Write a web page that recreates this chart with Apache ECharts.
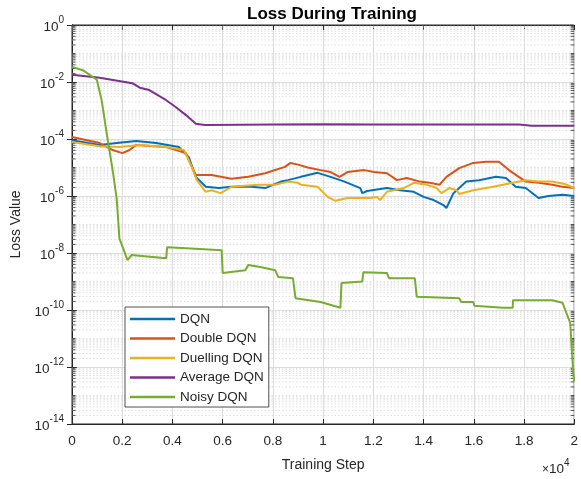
<!DOCTYPE html>
<html>
<head>
<meta charset="utf-8">
<script src="https://cdn.jsdelivr.net/npm/echarts@6/dist/echarts.min.js"></script>
<style>
html,body{margin:0;padding:0;background:#fff;}
#chart{width:581px;height:479px;}
</style>
</head>
<body>
<div id="chart"></div>
<script>
// ---- Data (training step, loss value) ----
var dqnSteps = [0,1100,1780,2560,3350,4260,4650,4930,5330,5840,6350,7140,7690,8320,8600,9110,9780,10300,10850,11480,11560,11750,12540,13060,13610,14000,14400,14790,14910,15190,15700,16210,16880,17280,17670,18070,18580,18970,19530,20000];
var dqnLoss  = [9.1e-5,6.2e-5,7.2e-5,8.5e-5,7.2e-5,5.2e-5,2.3e-5,4.7e-6,2.1e-6,1.9e-6,2.1e-6,2.1e-6,1.9e-6,3.2e-6,3.6e-6,4.7e-6,6.5e-6,4.7e-6,3.2e-6,1.9e-6,1.26e-6,1.5e-6,1.9e-6,1.6e-6,1.4e-6,9.3e-7,7.2e-7,4.8e-7,3.8e-7,1.26e-6,3.2e-6,3.6e-6,4.7e-6,4.3e-6,2.1e-6,1.9e-6,8.5e-7,1.0e-6,1.1e-6,1.0e-6];

var doubleSteps = [0,1100,1620,2010,2290,2560,3750,4540,4770,4930,5560,6350,7020,7690,8480,8700,9000,9390,9900,10300,10650,10970,11640,12030,12540,12940,13330,13850,14240,14640,14910,15420,15980,16490,17000,17400,17790,18070,18580,19130,19530,20000];
var doubleLoss  = [1.17e-4,7.2e-5,4.1e-5,3.2e-5,4.1e-5,6.2e-5,5.2e-5,3.2e-5,1.05e-5,5.5e-6,5.5e-6,4.0e-6,4.7e-6,6.3e-6,1.05e-5,1.45e-5,1.26e-5,1.0e-5,8.1e-6,6.9e-6,4.7e-6,6.9e-6,8.1e-6,6.9e-6,6.3e-6,3.6e-6,4.3e-6,3.2e-6,2.9e-6,2.5e-6,4.7e-6,9.5e-6,1.45e-5,1.6e-5,1.6e-5,8.1e-6,4.7e-6,3.2e-6,2.9e-6,2.5e-6,2.1e-6,1.9e-6];

var duelSteps = [0,1100,1890,2680,3750,4460,4770,4970,5330,5560,5920,6350,7420,8090,8600,8990,9110,9780,10180,10490,10970,11870,12150,12270,12540,13220,13610,14120,14520,14710,15030,15310,15420,15980,16770,17550,18070,18580,19130,19650,20000];
var duelLoss  = [7.9e-5,5.6e-5,5.2e-5,6.2e-5,5.2e-5,4.1e-5,1.05e-5,3.6e-6,1.4e-6,1.6e-6,1.26e-6,2.1e-6,2.5e-6,2.5e-6,3.2e-6,2.9e-6,2.5e-6,2.1e-6,9.3e-7,6.8e-7,8.5e-7,8.5e-7,9.3e-7,7.2e-7,1.4e-6,1.9e-6,2.9e-6,2.5e-6,1.9e-6,1.26e-6,1.9e-6,1.6e-6,1.17e-6,1.6e-6,2.1e-6,2.9e-6,3.6e-6,3.2e-6,3.2e-6,2.6e-6,1.9e-6];

var avgSteps = [0,1100,2400,2700,3080,3750,4140,4540,4930,5300,8000,10000,12000,14000,16000,17800,18300,20000];
var avgLoss  = [1.8e-2,1.4e-2,9.1e-3,6.3e-3,5.2e-3,2.3e-3,1.3e-3,6.9e-4,3.4e-4,3.1e-4,3.2e-4,3.3e-4,3.2e-4,3.2e-4,3.2e-4,3.2e-4,2.9e-4,2.9e-4];

var noisySteps = [0,430,990,1180,1380,1620,1780,1890,2090,2210,2370,3750,3790,4380,5960,6000,6900,7020,7500,8090,8210,8800,8900,9900,10690,10730,11560,11600,12540,12620,13650,13730,15420,15500,15980,16020,17160,17550,17560,19130,19530,19840,19960,20000];
var noisyLoss  = [3.4e-2,2.6e-2,1.2e-2,2.3e-3,1.6e-4,7.9e-6,7.9e-7,3.2e-8,1.1e-8,5.6e-9,8.5e-9,6.6e-9,1.6e-8,1.5e-8,1.26e-8,2.0e-9,2.5e-9,3.8e-9,3.2e-9,2.5e-9,1.45e-9,1.3e-9,2.6e-10,1.9e-10,1.2e-10,8.9e-10,1.0e-9,2.1e-9,2.0e-9,1.3e-9,1.3e-9,2.9e-10,2.6e-10,1.9e-10,1.9e-10,1.4e-10,1.2e-10,1.2e-10,2.2e-10,2.2e-10,1.8e-10,3.5e-11,6.3e-13,3.2e-13];

var seriesNames = ['DQN','Double DQN','Duelling DQN','Average DQN','Noisy DQN'];
var seriesColors = ['#0072BD','#D95319','#EDB120','#7E2F8E','#77AC30'];
var xTickLabels = ['0','0.2','0.4','0.6','0.8','1','1.2','1.4','1.6','1.8','2'];

function pairs(xs, ys){ return xs.map(function(x,i){ return [x, ys[i]]; }); }

// minor grid levels for the log axis: 2..9 x 10^k and odd decades
var minorLevels = [];
for (var k = -14; k < 0; k++) {
  if (Math.abs(k) % 2 === 1) minorLevels.push(Math.pow(10, k));
  for (var m = 2; m <= 9; m++) minorLevels.push(m * Math.pow(10, k));
}
var minorGridData = [], minorTickData = [];
minorLevels.forEach(function(v){
  minorGridData.push([0, v], [20000, v], [0, '-']);
  minorTickData.push([0, v], [140, v], [0, '-'], [19860, v], [20000, v], [0, '-']);
});

var FONT = 'Liberation Sans, Arial, Helvetica, sans-serif';
var TXT = '#262626';

var chart = echarts.init(document.getElementById('chart'), null, {renderer:'canvas'});

var dataSets = [[dqnSteps,dqnLoss],[doubleSteps,doubleLoss],[duelSteps,duelLoss],[avgSteps,avgLoss],[noisySteps,noisyLoss]];
var series = [{
  name: '_minorGrid', type: 'line', data: minorGridData, silent: true, z: 1,
  showSymbol: false, symbol: 'none', connectNulls: false,
  lineStyle: {color: '#dedede', type: [1.5,2], width: 1}, animation: false
}, {
  name: '_minorTick', type: 'line', data: minorTickData, silent: true, z: 2,
  showSymbol: false, symbol: 'none', connectNulls: false,
  lineStyle: {color: '#262626', width: 0.8}, animation: false
}];
dataSets.forEach(function(d, i){
  series.push({
    name: seriesNames[i], type: 'line', data: pairs(d[0], d[1]),
    showSymbol: false, symbol: 'none', z: 3 + i,
    lineStyle: {color: seriesColors[i], width: 2}, itemStyle: {color: seriesColors[i]},
    animation: false
  });
});

var tickStyle = {show: true, inside: true, length: 5, lineStyle: {color: '#262626'}};
var axisLineStyle = {show: true, lineStyle: {color: '#262626'}};

chart.setOption({
  backgroundColor: '#fff',
  animation: false,
  title: {
    text: 'Loss During Training', left: 327, top: 1, textAlign: 'center',
    textStyle: {fontFamily: FONT, fontSize: 17, fontWeight: 'bold', color: '#000'}
  },
  legend: {
    data: seriesNames, orient: 'vertical', left: 125, top: 307,
    icon: 'rect', itemWidth: 45, itemHeight: 2.5, itemGap: 5.5,
    padding: [5, 5, 3, 5],
    backgroundColor: '#fff', borderColor: '#262626', borderWidth: 0.8,
    textStyle: {fontFamily: FONT, fontSize: 13.5, color: TXT, lineHeight: 14}
  },
  grid: {left: 72, right: 2, top: 25, bottom: 55, show: true, borderColor: '#262626', borderWidth: 1, backgroundColor: 'transparent'},
  xAxis: [{
    type: 'value', min: 0, max: 20000, interval: 2000,
    name: 'Training Step', nameLocation: 'middle', nameGap: 34,
    nameTextStyle: {fontFamily: FONT, fontSize: 14, color: TXT},
    axisLine: axisLineStyle, axisTick: tickStyle,
    axisLabel: {fontFamily: FONT, fontSize: 13.5, color: TXT, margin: 10,
      formatter: function(v){ return xTickLabels[Math.round(v/2000)]; }},
    splitLine: {show: true, lineStyle: {color: '#dcdcdc', width: 1}}
  }, {
    type: 'value', position: 'top', min: 0, max: 20000, interval: 2000,
    axisLine: axisLineStyle, axisTick: tickStyle, axisLabel: {show: false}, splitLine: {show: false}
  }],
  yAxis: [{
    type: 'log', logBase: 10, min: 1e-14, max: 1, interval: 2,
    name: 'Loss Value', nameLocation: 'middle', nameGap: 48,
    nameTextStyle: {fontFamily: FONT, fontSize: 14, color: TXT},
    axisLine: axisLineStyle, axisTick: tickStyle,
    axisLabel: {
      margin: 8,
      formatter: function(v){ var e = Math.round(Math.log10(v)); return '{b|10}{s|' + e + '}'; },
      rich: {
        b: {fontFamily: FONT, fontSize: 13.5, color: TXT, lineHeight: 19, verticalAlign: 'bottom'},
        s: {fontFamily: FONT, fontSize: 10, color: TXT, lineHeight: 19, verticalAlign: 'top'}
      }
    },
    splitLine: {show: true, lineStyle: {color: '#dcdcdc', width: 1}}
  }, {
    type: 'log', logBase: 10, min: 1e-14, max: 1, interval: 2, position: 'right',
    axisLine: axisLineStyle, axisTick: tickStyle, axisLabel: {show: false}, splitLine: {show: false}
  }],
  graphic: [{
    type: 'text', left: 542, top: 458,
    style: {
      text: '{t|×}{b|10}{s|4}',
      rich: {
        t: {fontFamily: FONT, fontSize: 12, fill: TXT, lineHeight: 18, verticalAlign: 'bottom'},
        b: {fontFamily: FONT, fontSize: 13.5, fill: TXT, lineHeight: 18, verticalAlign: 'bottom'},
        s: {fontFamily: FONT, fontSize: 10, fill: TXT, lineHeight: 18, verticalAlign: 'top'}
      }
    }
  }],
  series: series
});
</script>
</body>
</html>
